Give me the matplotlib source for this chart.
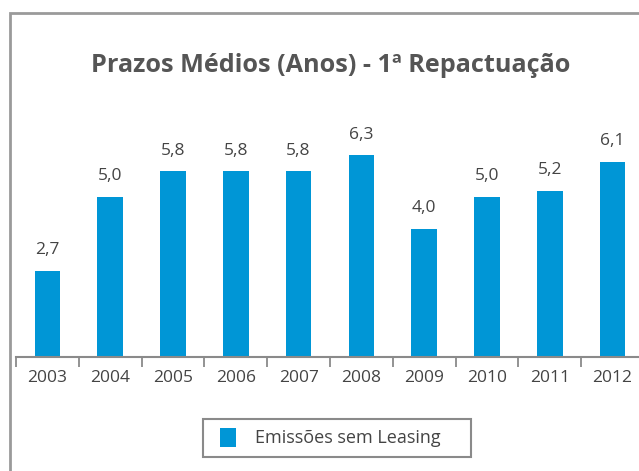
import matplotlib
matplotlib.use("Agg")
import matplotlib.pyplot as plt
from matplotlib.patches import Rectangle

categories = ["2003", "2004", "2005", "2006", "2007", "2008", "2009", "2010", "2011", "2012"]
values = [2.7, 5.0, 5.8, 5.8, 5.8, 6.3, 4.0, 5.0, 5.2, 6.1]
series_name = "Emissões sem Leasing"
title = "Prazos Médios (Anos) - 1ª Repactuação"

W, H = 639, 471
BLUE = '#0096d6'
plt.rcParams['font.family'] = ['Open Sans', 'DejaVu Sans']
fig = plt.figure(figsize=(W / 100, H / 100), dpi=100)
fig.patch.set_facecolor('white')

def fx(px):
    return px / W

def fy(py):
    return 1 - py / H

# outer border (cropped on right and bottom)
fig.patches.append(Rectangle((fx(10), -0.1), 1.2, fy(13) + 0.1,
                             transform=fig.transFigure, fill=False,
                             edgecolor='#9a9a9a', linewidth=2.0))

ax = fig.add_axes([16 / W, 114 / H, 628 / W, 224 / H])
x = list(range(len(categories)))
ax.bar(x, values, width=0.41, color=BLUE, label=series_name)
ax.set_xlim(-0.5, len(categories) - 0.5)
ax.set_ylim(0, 7)

for xi, v in zip(x, values):
    ax.annotate(f"{v:.1f}".replace('.', ','), (xi, v), xytext=(0, 9),
                textcoords='offset points', ha='center', va='bottom',
                fontsize=12.5, color='#444444')

for s in ['top', 'left', 'right']:
    ax.spines[s].set_visible(False)
ax.spines['bottom'].set_color('#8a8a8a')
ax.spines['bottom'].set_linewidth(1.5)
ax.set_yticks([])
ax.set_xticks(x)
ax.set_xticklabels(categories, fontsize=12.5, color='#444444')
ax.tick_params(axis='x', which='major', length=0, pad=9)
ax.set_xticks([i - 0.5 for i in range(len(categories) + 1)], minor=True)
ax.tick_params(axis='x', which='minor', length=7.5, width=1.3, color='#8a8a8a', direction='out')

fig.text(fx(331), fy(66), title, ha='center', va='center',
         fontsize=18.2, fontweight='bold', color='#555555')

# legend (drawn manually to match the box proportions)
fig.patches.append(Rectangle((fx(203), fy(457)), fx(471) - fx(203), fy(419) - fy(457),
                             transform=fig.transFigure, facecolor='white',
                             edgecolor='#8a8a8a', linewidth=1.5))
fig.patches.append(Rectangle((fx(220), fy(447)), fx(236) - fx(220), fy(428) - fy(447),
                             transform=fig.transFigure, facecolor=BLUE, edgecolor='none'))
fig.text(fx(255), fy(438), series_name, ha='left', va='center',
         fontsize=13, color='#444444')

fig.savefig('out.png', dpi=100)
